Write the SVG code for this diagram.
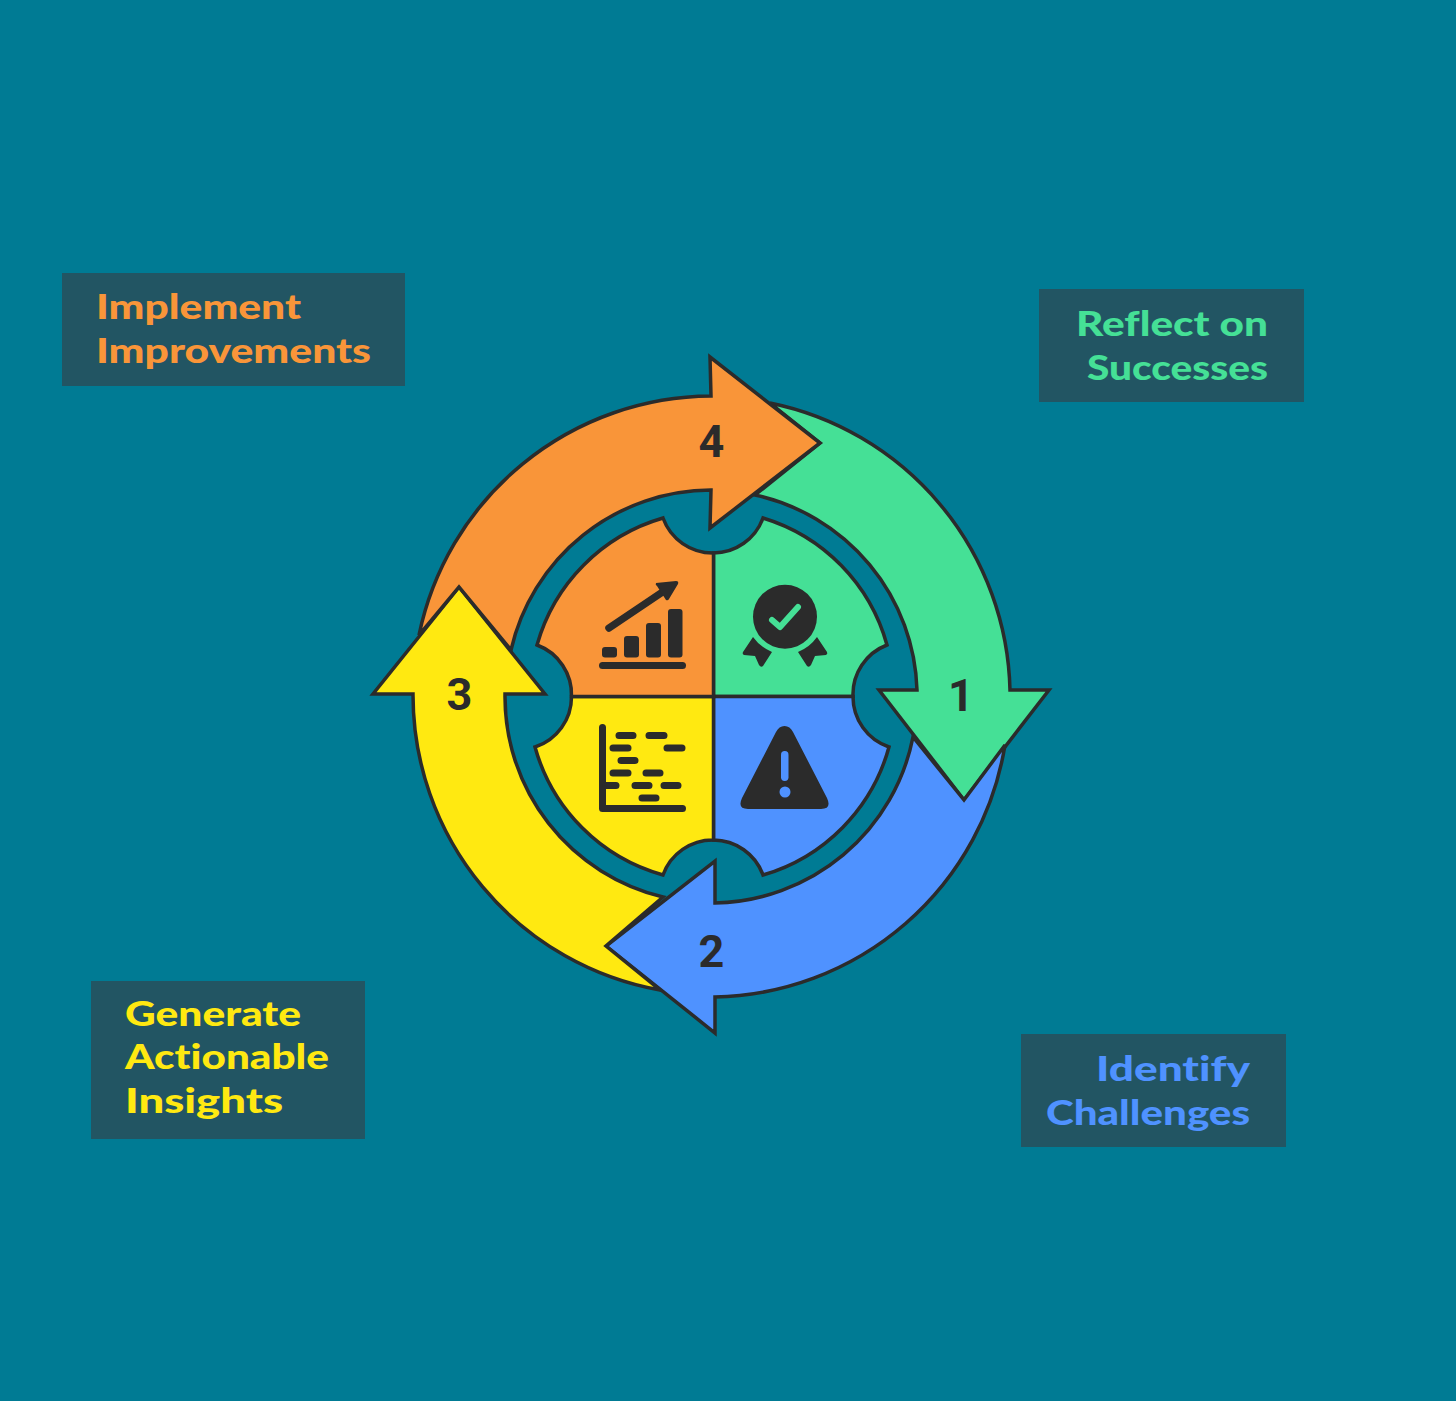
<svg xmlns="http://www.w3.org/2000/svg" width="1456" height="1401" viewBox="0 0 1456 1401">
<style>
.s{stroke:#2b2b2b;stroke-width:3.500;stroke-linejoin:miter}
.o{fill:#f99539}.g{fill:#45e096}.b{fill:#4f92ff}.y{fill:#ffe911}
.box{fill:#225563}
.lbl{font-family:"Lato","Noto Sans",sans-serif;font-weight:900;font-size:35px;font-variant-ligatures:none}
.num{font-family:Roboto,"Liberation Sans",sans-serif;font-weight:700;font-size:45px;fill:#2b2b2b;text-anchor:middle}
.ic{fill:#2b2b2b;stroke:none}
.pill{stroke:#2b2b2b;stroke-width:7;stroke-linecap:round;fill:none}
</style>
<rect width="1456" height="1401" fill="#007b94"/>
<g id="connectors">
<path id="arrow-1" class="s g" d="M770 403A300 300 0 0 1 1010 690L1049 690L964 800L879 690L917 690A206 206 0 0 0 755 495L820 443Z"/>
<path id="arrow-2" class="s b" d="M1005 745A300 300 0 0 1 715 997L715 1033L606 946L715 861L715 903A206 206 0 0 0 913 737L964 800Z"/>
<path id="arrow-3" class="s y" d="M660 990A300 300 0 0 1 413 694L373 694L459 587L545 694L505 694A206 206 0 0 0 663 897L606 946Z"/>
<path id="arrow-4" class="s o" d="M511 650A206 206 0 0 1 711 490L710 528L820 443L710 357L711 396A300 300 0 0 0 419 635L459 587Z"/>
<text class="num" x="961" y="711">1</text>
<text class="num" x="711.500" y="967">2</text>
<text class="num" x="459.500" y="710">3</text>
<text class="num" x="711.500" y="457">4</text>
</g>
<g id="node-reflect">
<path class="s g" d="M713.500 696.500L713.500 553A53 53 0 0 0 763 518A184 184 0 0 1 887 645A53 53 0 0 0 853 696.500Z"/>
<circle class="ic" cx="785" cy="616.700" r="32"/>
<path d="M772 620L780 627L798 607" fill="none" stroke="#45e096" stroke-width="6" stroke-linecap="round" stroke-linejoin="round"/>
<path class="ic" d="M753 637Q760 647 772 652L763 666Q761 668 759 665L755 656L744 655Q742 654 743 652Z"/>
<path class="ic" d="M817 637Q810 647 798 652L807 666Q809 668 811 665L815 656L826 655Q828 654 827 652Z"/>
<rect class="box" x="1039" y="289" width="265" height="113"/>
<text class="lbl g" x="1076" y="336" textLength="192" lengthAdjust="spacingAndGlyphs">Reflect on</text>
<text class="lbl g" x="1087" y="380" textLength="181" lengthAdjust="spacingAndGlyphs">Successes</text>
</g>
<g id="node-identify">
<path class="s b" d="M713.500 696.500L853 696.500A53 53 0 0 0 889 747A184 184 0 0 1 763 875A53 53 0 0 0 713.500 840Z"/>
<path class="ic" d="M784.500 726Q790 726 793 732L827 798Q832 809 821 809L748 809Q737 809 742 798L776 732Q779 726 784.500 726Z"/>
<rect class="b" x="781" y="751" width="7.500" height="30" rx="3.700"/>
<circle class="b" cx="785" cy="792" r="5.500"/>
<rect class="box" x="1021" y="1034" width="265" height="113"/>
<text class="lbl b" x="1096" y="1081" textLength="154" lengthAdjust="spacingAndGlyphs">Identify</text>
<text class="lbl b" x="1046" y="1125" textLength="204" lengthAdjust="spacingAndGlyphs">Challenges</text>
</g>
<g id="node-generate">
<path class="s y" d="M713.500 696.500L713.500 840A53 53 0 0 0 663 875A184 184 0 0 1 535 747A53 53 0 0 0 571.500 696.500Z"/>
<path d="M602.500 727.500L602.500 808.500L682.500 808.500" fill="none" stroke="#2b2b2b" stroke-width="7" stroke-linecap="round" stroke-linejoin="round"/>
<path class="pill" d="M619 735.500H633M649 735.500H664M613 748H628M667 748H682M621 760.500H635M613 773H628M646 773H660M606 785.500H616M635 785.500H649M664 785.500H678M642 798H656"/>
<rect class="box" x="91" y="981" width="274" height="158"/>
<text class="lbl y" x="125" y="1026" textLength="176" lengthAdjust="spacingAndGlyphs">Generate</text>
<text class="lbl y" x="125" y="1069" textLength="204" lengthAdjust="spacingAndGlyphs">Actionable</text>
<text class="lbl y" x="125" y="1113" textLength="158" lengthAdjust="spacingAndGlyphs">Insights</text>
</g>
<g id="node-implement">
<path class="s o" d="M713.500 696.500L571.500 696.500A53 53 0 0 0 537 645A184 184 0 0 1 663 518A53 53 0 0 0 713.500 553Z"/>
<path d="M609 628L664 591" fill="none" stroke="#2b2b2b" stroke-width="7.500" stroke-linecap="round"/>
<path class="ic" d="M656 583Q655 585 657 586L666 600Q668 601 669 599L678 584Q679 581 676 581Z"/>
<rect class="ic" x="602" y="647" width="15" height="10.500" rx="3"/>
<rect class="ic" x="624" y="636" width="15" height="21.500" rx="3"/>
<rect class="ic" x="646" y="623" width="15" height="34.500" rx="3"/>
<rect class="ic" x="668" y="609" width="14.500" height="48.500" rx="3"/>
<rect class="ic" x="599" y="662" width="87" height="7" rx="3.500"/>
<rect class="box" x="62" y="273" width="343" height="113"/>
<text class="lbl o" x="96" y="319" textLength="205" lengthAdjust="spacingAndGlyphs">Implement</text>
<text class="lbl o" x="96" y="363" textLength="275" lengthAdjust="spacingAndGlyphs">Improvements</text>
</g>
</svg>
